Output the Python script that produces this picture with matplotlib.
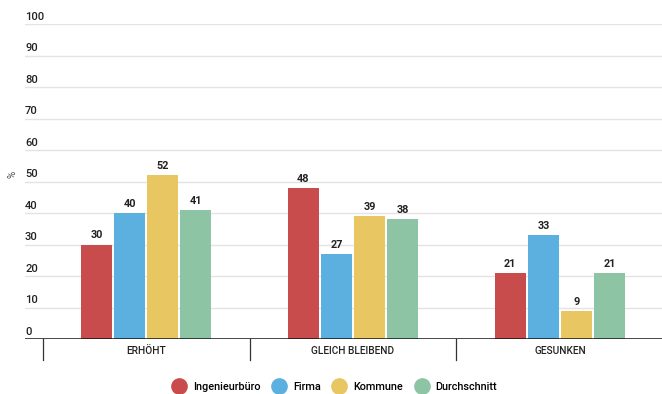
import matplotlib.pyplot as plt
import matplotlib.transforms as mtransforms
from matplotlib.lines import Line2D
import numpy as np

plt.rcParams['font.family'] = ['Roboto', 'DejaVu Sans']

categories = ['ERHÖHT', 'GLEICH BLEIBEND', 'GESUNKEN']
series = ['Ingenieurbüro', 'Firma', 'Kommune', 'Durchschnitt']
values = {
    'Ingenieurbüro': [30, 48, 21],
    'Firma': [40, 27, 33],
    'Kommune': [52, 39, 9],
    'Durchschnitt': [41, 38, 21],
}
colors = ['#C94C4C', '#5BB0E0', '#E8C662', '#8CC4A4']
yticks = list(range(0, 101, 10))

fig = plt.figure(figsize=(6.62, 3.94), dpi=100)
ax = fig.add_axes([25 / 662, 1 - 339 / 394, 637 / 662, 315 / 394])

x = np.arange(len(categories))
offsets = [-0.24, -0.08, 0.08, 0.24]
width = 0.15
for name, off, col in zip(series, offsets, colors):
    bars = ax.bar(x + off, values[name], width, color=col, zorder=3)
    for b, v in zip(bars, values[name]):
        ax.text(b.get_x() + b.get_width() / 2, v + 1.3, str(v), ha='center',
                va='bottom', fontsize=7.8, fontweight='bold', color='#222222')

ax.set_xlim(-0.585, 2.493)
ax.set_ylim(0, 100)

# gridlines with labels sitting above them
ytrans = mtransforms.blended_transform_factory(ax.transAxes, ax.transData)
for t in yticks:
    if t > 0:
        ax.axhline(t, color='#E3E3E3', lw=1, zorder=1)
    ax.text(0, t + 1.3, str(t), transform=ytrans, ha='left', va='baseline',
            fontsize=8, fontweight='medium', color='#222222')
ax.axhline(0, color='#111111', lw=1.8, zorder=4)

# separators under the axis
trans = mtransforms.blended_transform_factory(ax.transData, ax.transAxes)
for s in [-0.5, 0.5, 1.5]:
    ax.plot([s, s], [0, -0.067], transform=trans, color='#333333', lw=0.9, clip_on=False)

ax.set_xticks(x)
ax.set_xticklabels(categories, fontsize=7.3, fontweight='medium', color='#222222')
ax.tick_params(axis='x', length=0, pad=5)
ax.set_yticks([])
for sp in ax.spines.values():
    sp.set_visible(False)

fig.text(12 / 662, 1 - 174 / 394, '%', rotation=90, ha='center', va='center', fontsize=7, color='#444444')

handles = [Line2D([], [], marker='o', ls='', markersize=11, markerfacecolor=c, markeredgecolor=c)
           for c in colors]
fig.legend(handles, series, loc='center', bbox_to_anchor=(0.505, 1 - 387 / 394), ncol=4,
           frameon=False, handletextpad=0.6, columnspacing=1.0, handlelength=1.4,
           prop={'size': 7.8, 'weight': 'medium'})

fig.savefig('out.png', dpi=100)
